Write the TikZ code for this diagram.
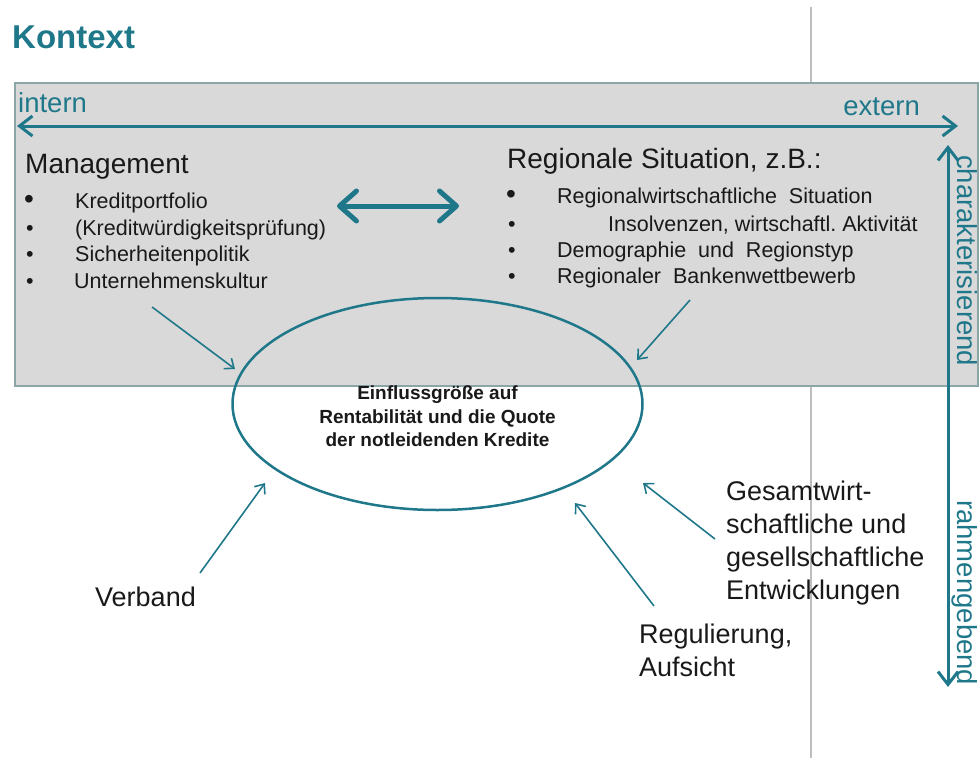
\documentclass[tikz,border=0pt]{standalone}
\usepackage{fontspec}
\setmainfont{Liberation Sans}
\usetikzlibrary{arrows.meta,shapes.geometric}
\definecolor{tealc}{RGB}{31,119,138}
\definecolor{boxfill}{RGB}{217,217,217}
\definecolor{boxline}{RGB}{140,166,168}
\definecolor{ink}{RGB}{25,25,25}
\definecolor{sepline}{RGB}{190,190,190}
\tikzset{
  lbl/.style={inner sep=0pt, anchor=base west, text=ink},
  hdr/.style={lbl, font=\fontsize{28}{32}\selectfont},
  itm/.style={lbl, font=\fontsize{21.5}{26}\selectfont},
  bigbul/.style={lbl, font=\fontsize{28}{32}\selectfont},
  axislbl/.style={inner sep=0pt, text=tealc, font=\fontsize{27.5}{32}\selectfont},
  outer/.style={inner sep=0pt, text=ink, align=left, font=\fontsize{27}{33}\selectfont},
  axisarrow/.style={draw=tealc, line width=3pt,
    {Straight Barb[length=13pt,width=20pt]}-{Straight Barb[length=13pt,width=20pt]}},
  infl/.style={draw=tealc, line width=1.6pt, -{Straight Barb[length=8pt,width=13pt]}},
}
\begin{document}
\begin{tikzpicture}[x=1pt,y=-1pt]
\useasboundingbox (0,0) rectangle (980,758);
% separator line behind box
\coordinate (st) at (811,7);
\coordinate (sb) at (811,758);
\draw[sepline, line width=1.2pt] (st) -- (sb);
% context box
\node[draw=boxline, fill=boxfill, line width=2pt, anchor=north west, inner sep=0pt,
      minimum width=963pt, minimum height=303pt] (ctx) at (14,82) {};
% title
\node[inner sep=0pt, anchor=base west, text=tealc, font=\bfseries\fontsize{33}{36}\selectfont] (title) at (12,48) {Kontext};
% horizontal axis
\node[axislbl, anchor=base west] (intern) at (18,112) {intern};
\node[axislbl, anchor=base east] (extern) at (920,115) {extern};
\coordinate (hl) at (17,126);
\coordinate (hr) at (958,126);
\draw[axisarrow] (hl) -- (hr);
% vertical axis
\coordinate (vt) at (948,145);
\coordinate (vb) at (948,687);
\draw[axisarrow] (vt) -- (vb);
\node[axislbl, rotate=-90, anchor=base west] (char) at (957,155) {charakterisierend};
\node[axislbl, rotate=-90, anchor=base west] (rahm) at (957,500) {rahmengebend};
% management
\node[hdr] (mgmt) at (25,173) {Management};
\node[bigbul] (mb1) at (24,208) {•};
\node[itm] (mi1) at (75,208) {Kreditportfolio};
\node[itm] (mb2) at (26,235) {•};
\node[itm] (mi2) at (75,235) {(Kreditwürdigkeitsprüfung)};
\node[itm] (mb3) at (26,261) {•};
\node[itm] (mi3) at (75,261) {Sicherheitenpolitik};
\node[itm] (mb4) at (26,288) {•};
\node[itm] (mi4) at (74,288) {Unternehmenskultur};
% regional
\node[hdr] (reg) at (507,168) {Regionale Situation, z.B.:};
\node[bigbul] (rb1) at (506,203) {•};
\node[itm] (ri1) at (557,203) {Regionalwirtschaftliche\ \ Situation};
\node[itm] (rb2) at (508,231) {•};
\node[itm] (ri2) at (608,231) {Insolvenzen,\ wirtschaftl.\ Aktivität};
\node[itm] (rb3) at (508,257) {•};
\node[itm] (ri3) at (557,257) {Demographie\ \ und\ \ Regionstyp};
\node[itm] (rb4) at (508,283) {•};
\node[itm] (ri4) at (557,283) {Regionaler\ \ Bankenwettbewerb};
% double arrow
\coordinate (dl) at (337,206);
\coordinate (dr) at (459,206);
\draw[draw=tealc, line width=5pt, line cap=round,
  {Straight Barb[length=17pt,width=30pt,round]}-{Straight Barb[length=17pt,width=30pt,round]}] (dl) -- (dr);
% ellipse
\node[ellipse, draw=tealc, line width=2.5pt, minimum width=410pt, minimum height=212pt, inner sep=0pt] (ell) at (437.5,404) {};
\node[inner sep=0pt, align=center, text=ink, font=\bfseries\fontsize{19}{23.5}\selectfont] (elltxt) at (437.5,416.5)
  {Einflussgröße auf\\Rentabilität und die Quote\\der notleidenden Kredite};
% outer labels
\node[lbl, font=\fontsize{27}{33}\selectfont] (verb) at (95,606) {Verband};
\node[outer, anchor=north west] (regul) at (639,624) {Regulierung,\\Aufsicht};
\node[outer, anchor=north west] (gesamt) at (726,481) {Gesamtwirt-\\schaftliche und\\gesellschaftliche\\Entwicklungen};
% influence arrows
\coordinate (a1s) at (152,307); \coordinate (a1e) at (235,369);
\coordinate (a2s) at (690,300); \coordinate (a2e) at (637,360);
\coordinate (a3s) at (200,573); \coordinate (a3e) at (265,483);
\coordinate (a4s) at (654,606); \coordinate (a4e) at (575,503);
\coordinate (a5s) at (715,539); \coordinate (a5e) at (643,483);
\draw[infl] (a1s) -- (a1e);
\draw[infl] (a2s) -- (a2e);
\draw[infl] (a3s) -- (a3e);
\draw[infl] (a4s) -- (a4e);
\draw[infl] (a5s) -- (a5e);
\end{tikzpicture}
\end{document}
